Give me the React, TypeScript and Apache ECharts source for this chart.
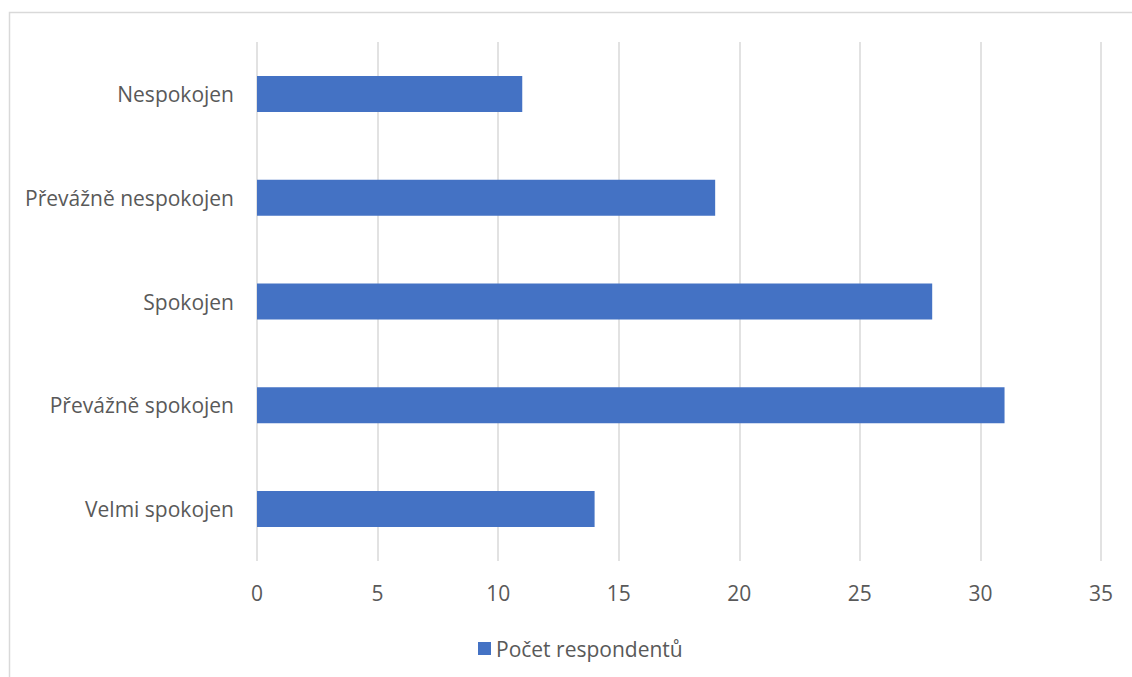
import React, { useEffect, useRef } from "react";
import * as echarts from "echarts";

const categories = [
  "Nespokojen",
  "Převážně nespokojen",
  "Spokojen",
  "Převážně spokojen",
  "Velmi spokojen",
];
const values = [11, 19, 28, 31, 14];
const seriesName = "Počet respondentů";
const FONT = "'Open Sans', 'Noto Sans', sans-serif";

export default function App() {
  const ref = useRef<HTMLDivElement>(null);
  useEffect(() => {
    if (!ref.current) return;
    const chart = echarts.init(ref.current, undefined, { renderer: "svg" });
    chart.setOption({
      animation: false,
      backgroundColor: "#ffffff",
      textStyle: { fontFamily: FONT },
      graphic: [
        {
          type: "rect",
          shape: { x: 9.5, y: 12.5, width: 1200, height: 700 },
          style: { fill: "none", stroke: "#d9d9d9", lineWidth: 1.5 },
          silent: true,
        },
      ],
      grid: { left: 257, right: 31, top: 42, bottom: 116, containLabel: false },
      xAxis: {
        type: "value",
        min: 0,
        max: 35,
        interval: 5,
        axisLine: { show: false },
        axisTick: { show: false },
        splitLine: { show: true, lineStyle: { color: "#d9d9d9", width: 1.5 } },
        axisLabel: { color: "#595959", fontSize: 21, fontFamily: FONT, margin: 21 },
      },
      yAxis: {
        type: "category",
        data: categories,
        inverse: true,
        axisLine: { show: false },
        axisTick: { show: false },
        axisLabel: { color: "#595959", fontSize: 21, fontFamily: FONT, margin: 23, padding: [0, 0, 3, 0] },
      },
      legend: {
        data: [seriesName],
        left: 473,
        top: 633,
        icon: "rect",
        itemWidth: 13,
        itemHeight: 13,
        itemGap: 6,
        textStyle: { color: "#595959", fontSize: 21, fontFamily: FONT },
      },
      series: [
        {
          name: seriesName,
          type: "bar",
          data: values,
          barWidth: 36,
          itemStyle: { color: "#4472c4" },
        },
      ],
    });
    return () => chart.dispose();
  }, []);
  return (
    <div
      ref={ref}
      style={{ position: "fixed", left: 0, top: 0, width: 1132, height: 677 }}
    />
  );
}
